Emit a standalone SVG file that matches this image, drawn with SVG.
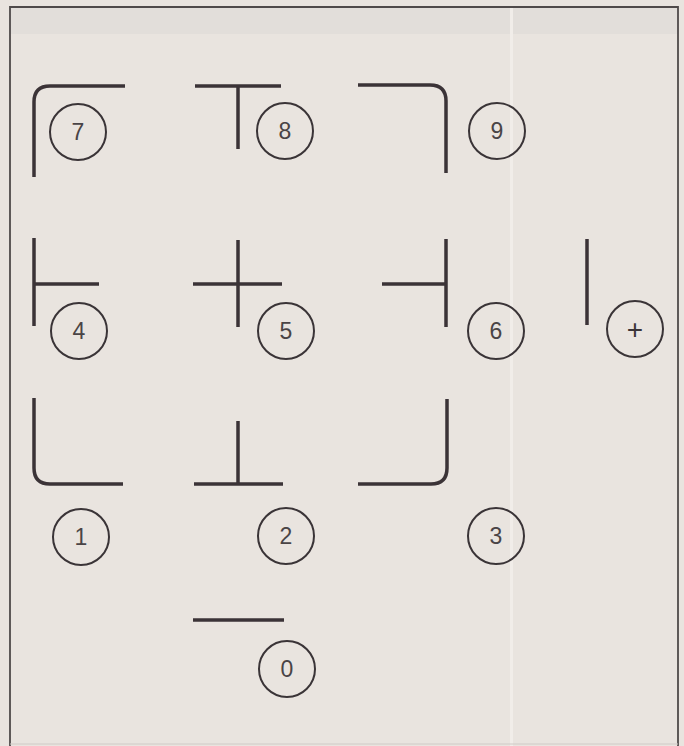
<svg xmlns="http://www.w3.org/2000/svg" width="684" height="746" viewBox="0 0 684 746">
<style>
.seg{fill:none;stroke:#3b3337;stroke-width:3.5;stroke-linecap:butt;stroke-linejoin:round}
.ring{fill:none;stroke:#3a3437;stroke-width:2}
.lbl{font-family:"Liberation Sans",Arial,sans-serif;font-size:23px;fill:#4a4446;text-anchor:middle;dominant-baseline:central}
.plus{font-size:28px;fill:#3a3437}
</style>
<rect x="0" y="0" width="684" height="746" fill="#e9e4df"/>
<rect x="10" y="7" width="668" height="27" fill="#e2deda"/>
<rect x="510" y="7" width="3" height="739" fill="#f1ede9"/>
<path d="M10,746 V7 H678 V746" fill="none" stroke="#4f4a4a" stroke-width="1.8"/>
<line x1="10" y1="744" x2="678" y2="744" stroke="#cfcac6" stroke-width="1"/>

<g id="key7">
<path class="seg" d="M34,177 V102 Q34,86 50,86 H125"/>
<circle class="ring" cx="78" cy="132" r="28"/>
<text class="lbl" x="78" y="132">7</text>
</g>
<g id="key8">
<path class="seg" d="M195,86 H281 M238,86 V149"/>
<circle class="ring" cx="285" cy="131" r="28"/>
<text class="lbl" x="285" y="131">8</text>
</g>
<g id="key9">
<path class="seg" d="M358,85 H430 Q446,85 446,101 V173"/>
<circle class="ring" cx="497" cy="131" r="28"/>
<text class="lbl" x="497" y="131">9</text>
</g>
<g id="key4">
<path class="seg" d="M34,238 V326 M34,284 H99"/>
<circle class="ring" cx="79" cy="331" r="28"/>
<text class="lbl" x="79" y="331">4</text>
</g>
<g id="key5">
<path class="seg" d="M238,240 V327 M193,284 H282"/>
<circle class="ring" cx="286" cy="331" r="28"/>
<text class="lbl" x="286" y="331">5</text>
</g>
<g id="key6">
<path class="seg" d="M446,239 V327 M382,284 H446"/>
<circle class="ring" cx="496" cy="331" r="28"/>
<text class="lbl" x="496" y="331">6</text>
</g>
<g id="keyPlus">
<path class="seg" d="M587,239 V325"/>
<circle class="ring" cx="635" cy="329" r="28"/>
<text class="lbl plus" x="635" y="329">+</text>
</g>
<g id="key1">
<path class="seg" d="M34,398 V468 Q34,484 50,484 H123"/>
<circle class="ring" cx="81" cy="537" r="28"/>
<text class="lbl" x="81" y="537">1</text>
</g>
<g id="key2">
<path class="seg" d="M238,421 V484 M194,484 H283"/>
<circle class="ring" cx="286" cy="536" r="28"/>
<text class="lbl" x="286" y="536">2</text>
</g>
<g id="key3">
<path class="seg" d="M447,399 V468 Q447,484 431,484 H358"/>
<circle class="ring" cx="496" cy="536" r="28"/>
<text class="lbl" x="496" y="536">3</text>
</g>
<g id="key0">
<path class="seg" d="M193,620 H284"/>
<circle class="ring" cx="287" cy="669" r="28"/>
<text class="lbl" x="287" y="669">0</text>
</g>
</svg>
